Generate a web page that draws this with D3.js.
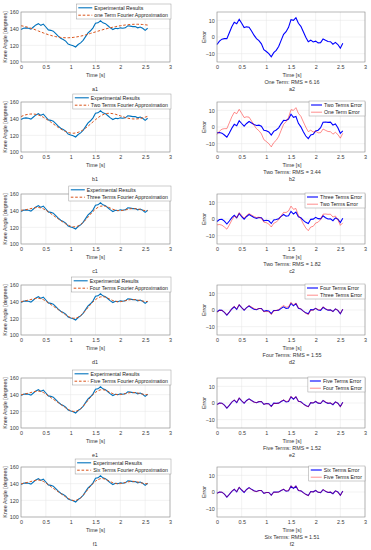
<!DOCTYPE html>
<html>
<head>
<meta charset="utf-8">
<script src="https://cdn.jsdelivr.net/npm/d3@7"></script>
<style>
  body { margin: 0; background: #fff; }
  svg { display: block; font-family: "Liberation Sans", Arial, sans-serif; }
</style>
</head>
<body>
<svg id="chart" width="371" height="550"></svg>
<script>
// time samples [s]
const time = [0.00,0.05,0.10,0.15,0.20,0.25,0.30,0.35,0.40,0.45,0.50,0.55,0.60,0.65,0.70,0.75,0.80,0.85,0.90,0.95,
  1.00,1.05,1.10,1.15,1.20,1.25,1.30,1.35,1.40,1.45,1.50,1.55,1.60,1.65,1.70,1.75,1.80,1.85,1.90,1.95,
  2.00,2.05,2.10,2.15,2.20,2.25,2.30,2.35,2.40,2.45,2.50,2.55];

// measured knee angle [degrees]
const experimental = [139,140.5,141,140.5,139.5,142,144.5,146,144,145.5,142,138.5,138,137,134,131,128.5,127,125,121.5,
  120.5,119.5,118,121,123,126,130.5,135,137.5,141,146.5,147,149.5,147,146,143.5,141,139,140.5,140,
  141,140.5,141,143.5,143,142.5,142.5,141,142,140.5,138,140.5];

// Fourier approximations
const fitOne = [143.5,143,142.3,141.5,140.5,139.5,138.4,137.2,136,134.9,133.8,132.8,131.9,131.1,130.4,129.9,129.5,129.2,129.1,129.1,
  129.2,129.5,129.9,130.4,131,131.7,132.5,133.4,134.3,135.2,136.1,137,137.9,138.8,139.6,140.4,141.1,141.8,142.4,143,
  143.5,144,144.4,144.7,145,145.2,145.3,145.3,145.2,145,144.7,144.3];
const fitTwo = [142.5,143.8,144.7,145.3,145.6,145.6,145.2,144.4,143.2,141.7,139.9,138,135.9,133.7,131.6,129.5,127.6,125.9,124.5,123.4,
  122.7,122.5,122.8,123.6,124.8,126.5,128.6,131,133.6,136.2,138.8,141.2,143.2,144.8,145.9,146.4,146.4,146,145.3,144.4,
  143.4,142.4,141.4,140.6,140,139.7,139.6,139.8,140.2,140.9,141.8,142.8];
const fitThree = [140.5,140.8,141.2,141.8,142.5,143.2,143.7,143.8,143.3,142.2,140.6,138.6,136.5,134.3,132.2,130.1,128.1,126.1,124.2,122.6,
  121.3,120.6,120.7,121.6,123.3,125.8,128.9,132.3,135.8,139.1,141.9,144,145.3,145.7,145.3,144.3,143,141.7,140.7,140.1,
  140,140.3,140.9,141.6,142.2,142.5,142.4,142,141.3,140.6,140.1,140];
const fitFour = [140,140.6,141.2,141.9,142.6,143.3,143.9,144.1,143.6,142.4,140.6,138.6,136.6,134.6,132.6,130.5,128.3,126.1,124.1,122.3,
  120.9,120.1,120.2,121.3,123.3,126.1,129.5,133.1,136.6,139.8,142.5,144.5,145.7,146,145.4,144.2,142.7,141.3,140.3,139.9,
  140,140.5,141.2,141.9,142.4,142.6,142.4,141.9,141.3,140.7,140.3,140.1];
const fitFive = [139.9,140.5,141.1,141.8,142.6,143.4,144,144.3,143.8,142.6,140.7,138.6,136.5,134.5,132.5,130.4,128.3,126.2,124.1,122.3,
  120.8,119.9,120,121.1,123.2,126.1,129.6,133.3,136.9,140.1,142.8,144.7,145.8,146,145.3,144,142.5,141.2,140.3,140,
  140.1,140.6,141.3,142,142.5,142.7,142.5,142,141.3,140.6,140.1,140];
const fitSix = [139.8,140.5,141.1,141.8,142.6,143.4,144.1,144.4,143.9,142.7,140.8,138.7,136.5,134.4,132.4,130.3,128.2,126.1,124.1,122.3,
  120.8,119.8,119.9,121,123.1,126,129.6,133.4,137,140.3,143,144.9,146,146.1,145.3,143.9,142.4,141.1,140.2,139.9,
  140.1,140.7,141.4,142.1,142.6,142.8,142.6,142,141.3,140.5,140,139.9];

const fits = [fitOne, fitTwo, fitThree, fitFour, fitFive, fitSix];

const fitLabels = ["one Term Fourier Approximation", "Two Terms Fourier Approximation", "Three Terms Fourier Approximation",
  "Four Terms Fourier Approximation", "Five Terms Fourier Approximation", "Six Terms Fourier Approximation"];
const errorLabels = ["One Term Error", "Two Terms Error", "Three Terms Error", "Four Terms Error", "Five Terms Error", "Six Terms Error"];
const rmsTitles = ["One Term: RMS = 6.16", "Two Terms: RMS = 3.44", "Two Terms: RMS = 1.82",
  "Four Terms: RMS = 1.55", "Five Terms: RMS = 1.52", "Six Terms: RMS = 1.51"];
const rowLetters = ["a", "b", "c", "d", "e", "f"];

const timeTicks = [0, 0.5, 1, 1.5, 2, 2.5, 3];
const angleTicks = [100, 120, 140, 160];
const errorTicks = [-10, 0, 10];

const svg = d3.select("#chart");
const rowTops = [12, 102, 194, 285, 378, 467];
const panelH = 50;
const leftX = [21, 170], rightX = [217, 365];
const fmt = d3.format("~g");

const expColor = "#0072BD", fitColor = "#D95319";
const curColor = "#0000FF", prevColor = "#FF0000";

// residual of each fit = experimental - fit
const errors = fits.map(f => experimental.map((v, i) => v - f[i]));

function drawFrame(g, x, y, xTicks, yTicks, top) {
  const [x0, x1] = x.range();
  const bottom = top + panelH;
  // grid
  g.append("g").selectAll("line").data(xTicks).join("line")
    .attr("x1", d => x(d)).attr("x2", d => x(d)).attr("y1", top).attr("y2", bottom)
    .attr("stroke", "#e4e4e4").attr("stroke-width", 0.5);
  g.append("g").selectAll("line").data(yTicks).join("line")
    .attr("x1", x0).attr("x2", x1).attr("y1", d => y(d)).attr("y2", d => y(d))
    .attr("stroke", "#e4e4e4").attr("stroke-width", 0.5);

  const ax = g.append("g").attr("transform", `translate(0,${bottom})`)
    .call(d3.axisBottom(x).tickValues(xTicks).tickFormat(fmt).tickSize(0).tickPadding(3));
  const ay = g.append("g").attr("transform", `translate(${x0},0)`)
    .call(d3.axisLeft(y).tickValues(yTicks).tickFormat(fmt).tickSize(0).tickPadding(2.2));
  [ax, ay].forEach(a => {
    a.select(".domain").remove();
    a.selectAll("text").attr("font-size", 5.4).attr("fill", "#3a3a3a").attr("font-family", null);
  });
}

function drawBox(g, x, top) {
  const [x0, x1] = x.range();
  g.append("rect").attr("x", x0).attr("y", top).attr("width", x1 - x0).attr("height", panelH)
    .attr("fill", "none").attr("stroke", "#8a8a8a").attr("stroke-width", 0.6);
}

function measure(text, size) {
  const t = svg.append("text").attr("font-size", size).text(text);
  const w = t.node().getComputedTextLength();
  t.remove();
  return w;
}

function legend(g, entries, rightEdge, top, lineLen, rowDy) {
  const size = 5.2;
  const textW = d3.max(entries, e => measure(e.label, size));
  const w = 2 + lineLen + 2 + textW + 3;
  const x0 = rightEdge - w;
  g.append("rect").attr("x", x0).attr("y", top).attr("width", w).attr("height", 15)
    .attr("fill", "#fff").attr("stroke", "#9a9a9a").attr("stroke-width", 0.5);
  entries.forEach((e, k) => {
    const cy = top + rowDy[k];
    g.append("line").attr("x1", x0 + 2).attr("x2", x0 + 2 + lineLen).attr("y1", cy).attr("y2", cy)
      .attr("stroke", e.color).attr("stroke-width", e.width).attr("stroke-dasharray", e.dash || null)
      .attr("stroke-opacity", e.opacity || 1);
    g.append("text").attr("x", x0 + 4 + lineLen).attr("y", cy + 1.9).attr("font-size", size)
      .attr("fill", "#222").text(e.label);
  });
}

rowTops.forEach((top, i) => {
  const bottom = top + panelH;

  // left panel: knee angle
  const xl = d3.scaleLinear([0, 3], leftX);
  const yl = d3.scaleLinear([100, 160], [bottom, top]);
  const gl = svg.append("g");
  drawFrame(gl, xl, yl, timeTicks, angleTicks, top);

  const angleLine = d3.line().x((d, k) => xl(time[k])).y(d => yl(d));
  gl.append("path").datum(experimental).attr("d", angleLine)
    .attr("fill", "none").attr("stroke", expColor).attr("stroke-width", 1.1);
  gl.append("path").datum(fits[i]).attr("d", angleLine)
    .attr("fill", "none").attr("stroke", fitColor).attr("stroke-width", 1)
    .attr("stroke-dasharray", "2.6,1.8");
  drawBox(gl, xl, top);

  gl.append("text").attr("transform", `translate(6.8,${top + panelH / 2}) rotate(-90)`)
    .attr("text-anchor", "middle").attr("font-size", 5.4).attr("fill", "#333").text("Knee Angle [degrees]");
  gl.append("text").attr("x", (leftX[0] + leftX[1]) / 2).attr("y", bottom + 14.5)
    .attr("text-anchor", "middle").attr("font-size", 5.4).attr("fill", "#333").text("Time [s]");
  gl.append("text").attr("x", (leftX[0] + leftX[1]) / 2 - 0.5).attr("y", bottom + 29.2)
    .attr("text-anchor", "middle").attr("font-size", 5.4).attr("fill", "#333").text(rowLetters[i] + "1");

  legend(gl, [
    { label: "Experimental Results", color: expColor, width: 1.1 },
    { label: fitLabels[i], color: fitColor, width: 1, dash: "2.6,1.8" }
  ], leftX[1] + 1, top - 8, 14, [3.8, 11.2]);

  // right panel: error
  const xr = d3.scaleLinear([0, 3], rightX);
  const yr = d3.scaleLinear([-15, 15], [bottom, top]);
  const gr = svg.append("g");
  drawFrame(gr, xr, yr, timeTicks, errorTicks, top);

  const errLine = d3.line().x((d, k) => xr(time[k])).y(d => yr(d));
  gr.append("path").datum(errors[i]).attr("d", errLine)
    .attr("fill", "none").attr("stroke", curColor).attr("stroke-width", 1.1);
  if (i > 0) {
    gr.append("path").datum(errors[i - 1]).attr("d", errLine)
      .attr("fill", "none").attr("stroke", prevColor).attr("stroke-width", 0.9).attr("stroke-opacity", 0.5);
  }
  drawBox(gr, xr, top);

  gr.append("text").attr("transform", `translate(205.5,${top + panelH / 2}) rotate(-90)`)
    .attr("text-anchor", "middle").attr("font-size", 5.4).attr("fill", "#333").text("Error");
  const cx = (rightX[0] + rightX[1]) / 2 + 1;
  gr.append("text").attr("x", cx).attr("y", bottom + 14.5)
    .attr("text-anchor", "middle").attr("font-size", 5.4).attr("fill", "#333").text("Time [s]");
  gr.append("text").attr("x", cx).attr("y", bottom + 21.6)
    .attr("text-anchor", "middle").attr("font-size", 5.4).attr("fill", "#333").text(rmsTitles[i]);
  gr.append("text").attr("x", cx).attr("y", bottom + 29.2)
    .attr("text-anchor", "middle").attr("font-size", 5.4).attr("fill", "#333").text(rowLetters[i] + "2");

  if (i > 0) {
    legend(gr, [
      { label: errorLabels[i], color: curColor, width: 1.1 },
      { label: errorLabels[i - 1], color: prevColor, width: 0.9, opacity: 0.5 }
    ], rightX[1], top - 1, 11, [4, 11.2]);
  }
});
</script>
</body>
</html>
